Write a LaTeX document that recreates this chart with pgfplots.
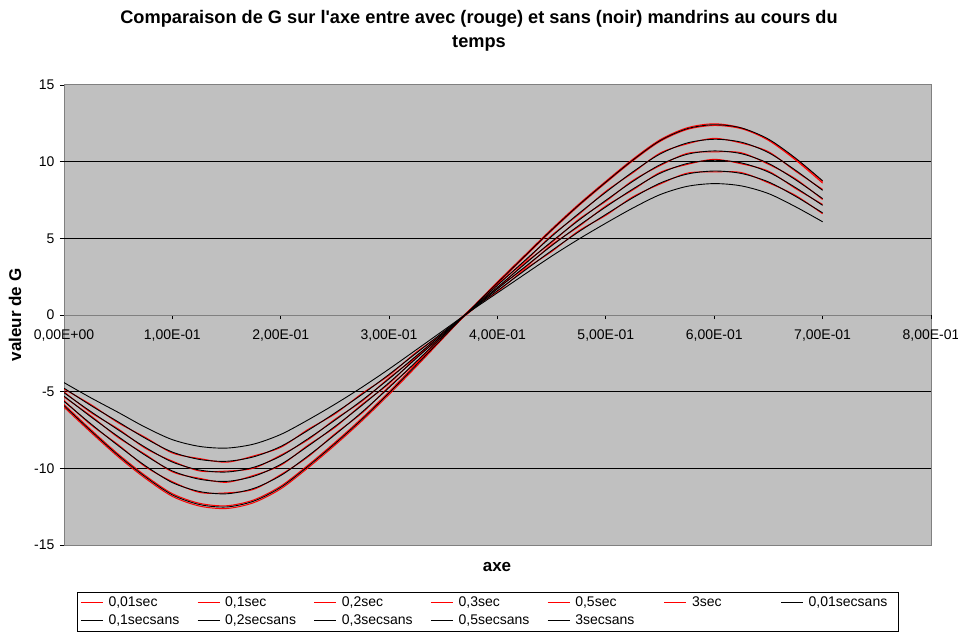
\documentclass[border=0pt]{standalone}
\usepackage{fontspec}
\setmainfont{Liberation Sans}
\usepackage{pgfplots}
\usepackage{pgfplotstable}
\pgfplotsset{compat=1.18}
\definecolor{plotgray}{RGB}{192,192,192}
\definecolor{axgray}{RGB}{128,128,128}
\definecolor{xlred}{RGB}{255,0,0}

\pgfplotstableread{
x      b1     b2     b3     b4     b5     b6     r1     r2     r3     r4     r5     r6
0.000  -5.91  -5.63  -5.29  -5.07  -4.77  -4.41  -6.01  -5.83  -5.57  -5.35  -5.01  -4.83
0.025  -7.57  -7.11  -6.65  -6.31  -5.91  -5.41  -7.67  -7.49  -7.17  -6.59  -6.37  -5.85
0.050  -9.15  -8.52  -7.93  -7.49  -6.97  -6.35  -9.25  -9.07  -8.46  -7.99  -7.43  -7.03
0.075  -10.55 -9.83  -9.15  -8.63  -8.04  -7.32  -10.65 -10.47 -9.89  -9.09  -8.69  -7.98
0.100  -11.73 -10.93 -10.17 -9.59  -8.94  -8.13  -11.83 -11.65 -10.87 -10.23 -9.53  -9.00
0.125  -12.36 -11.51 -10.71 -10.11 -9.42  -8.57  -12.46 -12.28 -11.57 -10.65 -10.17 -9.36
0.150  -12.52 -11.66 -10.85 -10.24 -9.54  -8.68  -12.62 -12.44 -11.60 -10.91 -10.18 -9.60
0.175  -12.14 -11.31 -10.52 -9.93  -9.25  -8.42  -12.24 -12.06 -11.37 -10.46 -9.99  -9.19
0.200  -11.24 -10.47 -9.74  -9.20  -8.57  -7.79  -11.34 -11.16 -10.41 -9.80  -9.14  -8.63
0.225  -9.88  -9.20  -8.56  -8.08  -7.53  -6.85  -9.98  -9.80  -9.26  -8.50  -8.14  -7.47
0.250  -8.39  -7.81  -7.27  -6.86  -6.39  -5.82  -8.49  -8.31  -7.75  -7.33  -6.80  -6.45
0.275  -6.80  -6.33  -5.89  -5.56  -5.18  -4.71  -6.90  -6.72  -6.39  -5.83  -5.62  -5.12
0.300  -5.08  -4.73  -4.41  -4.16  -3.87  -3.52  -5.18  -5.00  -4.67  -4.47  -4.10  -3.93
0.325  -3.27  -3.04  -2.83  -2.67  -2.49  -2.27  -3.37  -3.19  -3.10  -2.77  -2.73  -2.43
0.350  -1.45  -1.35  -1.26  -1.19  -1.11  -1.01  -1.50  -1.45  -1.29  -1.32  -1.13  -1.17
0.375  0.36   0.33   0.31   0.29   0.27   0.25   0.36   0.36   0.27   0.37   0.23   0.33
0.400  2.10   1.94   1.81   1.71   1.59   1.45   2.16   2.05   2.00   1.75   1.77   1.53
0.425  3.83   3.54   3.31   3.12   2.90   2.65   3.89   3.78   3.48   3.37   3.06   2.96
0.450  5.55   5.13   4.79   4.52   4.20   3.84   5.61   5.50   5.19   4.73   4.58   4.14
0.475  7.17   6.62   6.18   5.83   5.43   4.95   7.23   7.12   6.56   6.24   5.77   5.49
0.500  8.67   8.01   7.48   7.05   6.56   5.99   8.73   8.62   8.07   7.42   7.11   6.50
0.525  10.11  9.34   8.72   8.22   7.65   6.98   10.17  10.06  9.28   8.78   8.16   7.71
0.550  11.37  10.50  9.80   9.24   8.60   7.85   11.43  11.32  10.56  9.74   9.30   8.54
0.575  12.15  11.22  10.48  9.88   9.19   8.39   12.21  12.10  11.16  10.54  9.82   9.25
0.600  12.41  11.46  10.70  10.09  9.39   8.57   12.47  12.36  11.52  10.64  10.15  9.33
0.625  12.20  11.27  10.52  9.92   9.23   8.42   12.20  12.15  11.21  10.58  9.86   9.29
0.650  11.47  10.59  9.89   9.32   8.68   7.92   11.39  11.42  10.65  9.83   9.38   8.62
0.675  10.23  9.44   8.82   8.31   7.74   7.06   10.11  10.18  9.38   8.88   8.25   7.80
0.700  8.75   8.13   7.59   7.15   6.66   6.08   8.60   8.70   8.19   7.53   7.21   6.60
}\datatable

\newcommand{\lt}[1]{\makebox[86.4pt][l]{#1}}
\newcommand{\ltl}[1]{\makebox[84pt][l]{#1}}

\begin{document}
\begin{tikzpicture}[x=1pt,y=1pt]
\path[use as bounding box] (0,0) rectangle (958,635);
\begin{axis}[
  at={(64pt,90pt)}, anchor=south west,
  scale only axis, width=867pt, height=460pt,
  xmin=0, xmax=0.8, ymin=-15, ymax=15,
  axis x line=middle, axis y line=left,
  axis line style={-, draw=axgray, line width=1pt},
  axis background/.style={fill=plotgray, draw=axgray, line width=1pt},
  hide obscured x ticks=false, hide obscured y ticks=false,
  xtick={0,0.1,0.2,0.3,0.4,0.5,0.6,0.7,0.8},
  xticklabels={{0,00E+00},{1,00E-01},{2,00E-01},{3,00E-01},{4,00E-01},{5,00E-01},{6,00E-01},{7,00E-01},{8,00E-01}},
  ytick={-15,-10,-5,0,5,10,15},
  yticklabels={{-15},{-10},{-5},{0},{5},{10},{15}},
  extra y ticks={-10,-5,5,10},
  extra y tick labels={},
  extra y tick style={grid=major, major grid style={black, line width=0.9pt}},
  tick align=outside,
  major tick length=4pt,
  tick style={black, line width=0.8pt},
  ticklabel style={font=\fontsize{14}{16}\selectfont},
  x tick label style={yshift=-7pt},
  y tick label style={xshift=-2pt},
  title={Comparaison de G sur l\textquotesingle axe entre avec (rouge) et sans (noir) mandrins au cours du\\temps},
  title style={at={(0.4787,1.1044)}, anchor=center, align=center, font=\bfseries\fontsize{18.2}{24}\selectfont},
  xlabel={axe},
  xlabel style={at={(axis description cs:0.4994,-0.0478)}, anchor=center, font=\bfseries\fontsize{17}{20}\selectfont},
  ylabel={valeur de G},
  ylabel style={at={(axis description cs:-0.0565,0.5)}, anchor=center, rotate=0, font=\bfseries\fontsize{17}{20}\selectfont},
  no markers,
  legend columns=7,
  legend style={at={(axis description cs:0.015,-0.1022)}, anchor=north west,
    draw=black, fill=white, inner xsep=3pt, inner ysep=2.5pt,
    font=\fontsize{14}{16}\selectfont, row sep=3pt, column sep=0pt,
    /tikz/every odd column/.append style={column sep=3pt}},
  legend cell align=left,
  legend image code/.code={\draw[#1, line width=1.3pt] (0pt,0pt) -- (22pt,0pt);},
]
\addplot[color=xlred, line width=1pt, smooth, tension=0.5] table[x=x,y=r1]{\datatable};
\addlegendentry{\lt{0,01sec}}
\addplot[color=xlred, line width=1pt, smooth, tension=0.5] table[x=x,y=r2]{\datatable};
\addlegendentry{\lt{0,1sec}}
\addplot[color=xlred, line width=1pt, smooth, tension=0.5] table[x=x,y=r3]{\datatable};
\addlegendentry{\lt{0,2sec}}
\addplot[color=xlred, line width=1pt, smooth, tension=0.5] table[x=x,y=r4]{\datatable};
\addlegendentry{\lt{0,3sec}}
\addplot[color=xlred, line width=1pt, smooth, tension=0.5] table[x=x,y=r5]{\datatable};
\addlegendentry{\lt{0,5sec}}
\addplot[color=xlred, line width=1pt, smooth, tension=0.5] table[x=x,y=r6]{\datatable};
\addlegendentry{\lt{3sec}}
\addplot[color=black, line width=0.9pt, smooth, tension=0.5] table[x=x,y=b1]{\datatable};
\addlegendentry{\ltl{0,01secsans}}
\addplot[color=black, line width=0.9pt, smooth, tension=0.5] table[x=x,y=b2]{\datatable};
\addlegendentry{\lt{0,1secsans}}
\addplot[color=black, line width=0.9pt, smooth, tension=0.5] table[x=x,y=b3]{\datatable};
\addlegendentry{\lt{0,2secsans}}
\addplot[color=black, line width=0.9pt, smooth, tension=0.5] table[x=x,y=b4]{\datatable};
\addlegendentry{\lt{0,3secsans}}
\addplot[color=black, line width=0.9pt, smooth, tension=0.5] table[x=x,y=b5]{\datatable};
\addlegendentry{\lt{0,5secsans}}
\addplot[color=black, line width=0.9pt, smooth, tension=0.5] table[x=x,y=b6]{\datatable};
\addlegendentry{\lt{3secsans}}
\end{axis}
\end{tikzpicture}
\end{document}
